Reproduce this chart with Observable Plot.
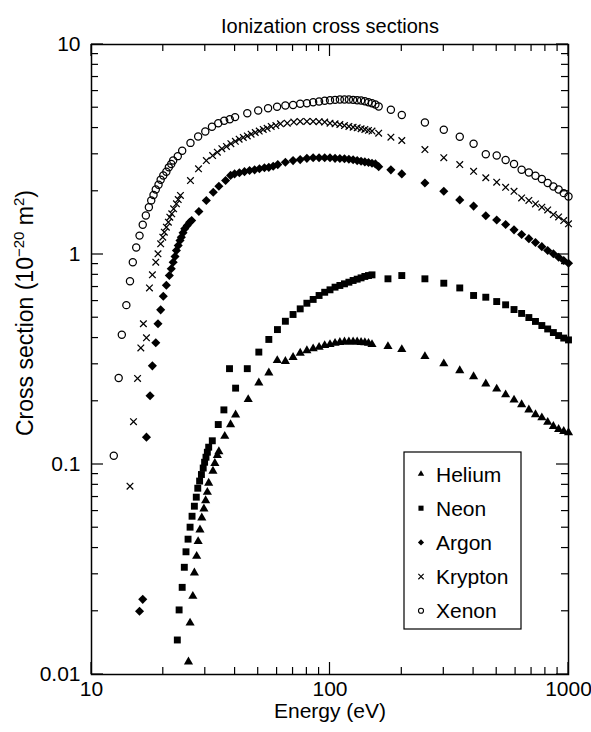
<!DOCTYPE html>
<html><head><meta charset="utf-8">
<script src="https://cdn.jsdelivr.net/npm/d3@7"></script>
<script src="https://cdn.jsdelivr.net/npm/@observablehq/plot@0.6"></script>
<style>body{margin:0;background:#fff;} svg{display:block;}</style>
</head><body><div id="chart"></div>
<script>
const title = "Ionization cross sections";
const xTitle = "Energy (eV)";
const gasNames = ["Helium", "Neon", "Argon", "Krypton", "Xenon"];
const xMajor = [10, 100, 1000];
const xTickLabels = ["10", "100", "1000"];
const xMinor = [20, 30, 40, 50, 60, 70, 80, 90, 200, 300, 400, 500, 600, 700, 800, 900];
const yMajor = [0.01, 0.1, 1, 10];
const yTickLabels = ["0.01", "0.1", "1", "10"];
const yMinor = [0.02, 0.03, 0.04, 0.05, 0.06, 0.07, 0.08, 0.09, 0.2, 0.3, 0.4, 0.5, 0.6, 0.7, 0.8, 0.9, 2, 3, 4, 5, 6, 7, 8, 9];

const heliumE = [25.5, 25.9, 26.6, 27.0, 27.6, 28.0, 28.5, 29.0, 29.6, 30.1, 30.6, 31.0, 32.3, 32.9, 33.7, 34.2, 36.2, 38.3, 40.2, 45.4, 50.3, 55.4, 60.1, 65, 70, 75, 80, 85, 90, 95, 100, 105, 110, 115, 120, 125, 130, 135, 140, 145, 150, 175, 200, 250, 300, 350, 400, 450, 500, 545, 591, 636, 682, 727, 773, 818, 864, 909, 955, 1000];
const heliumV = [0.0115, 0.0176, 0.0236, 0.0305, 0.0366, 0.0430, 0.0489, 0.0557, 0.0615, 0.0674, 0.0738, 0.0815, 0.0931, 0.1014, 0.1104, 0.1153, 0.1364, 0.155, 0.1725, 0.204, 0.245, 0.273, 0.313, 0.310, 0.324, 0.339, 0.349, 0.356, 0.362, 0.369, 0.373, 0.378, 0.382, 0.384, 0.384, 0.384, 0.384, 0.382, 0.381, 0.378, 0.373, 0.365, 0.353, 0.327, 0.302, 0.280, 0.262, 0.242, 0.229, 0.215, 0.203, 0.193, 0.182, 0.173, 0.167, 0.159, 0.152, 0.147, 0.144, 0.142];

const neonE = [22.9, 23.3, 24.0, 24.5, 24.9, 25.4, 25.9, 26.4, 27.0, 27.5, 27.9, 28.4, 28.9, 29.4, 29.8, 30.2, 30.6, 31.0, 32.1, 34.0, 35.9, 37.9, 40.2, 45.0, 50.3, 55.4, 60.2, 65, 70, 75, 80, 85, 90, 95, 100, 105, 110, 115, 120, 125, 130, 135, 140, 145, 150, 175, 200, 250, 300, 350, 400, 450, 500, 545, 591, 636, 682, 727, 773, 818, 864, 909, 955, 1000];
const neonV = [0.0146, 0.0203, 0.0260, 0.0324, 0.0384, 0.0441, 0.0503, 0.0567, 0.0633, 0.0699, 0.0771, 0.0834, 0.0896, 0.0962, 0.1025, 0.1083, 0.1144, 0.1209, 0.1297, 0.155, 0.182, 0.286, 0.231, 0.286, 0.343, 0.394, 0.439, 0.481, 0.518, 0.551, 0.586, 0.611, 0.638, 0.661, 0.679, 0.699, 0.712, 0.725, 0.738, 0.752, 0.763, 0.774, 0.786, 0.794, 0.800, 0.766, 0.794, 0.766, 0.730, 0.693, 0.638, 0.626, 0.597, 0.576, 0.547, 0.524, 0.501, 0.480, 0.459, 0.442, 0.425, 0.411, 0.400, 0.392];

const argonE = [15.9, 16.4, 17.0, 17.6, 18.0, 18.6, 19.0, 19.5, 20.0, 20.6, 21.2, 21.6, 22.0, 22.4, 22.7, 23.1, 23.5, 23.8, 24.2, 24.6, 25.2, 25.8, 26.3, 28.2, 30.3, 32.4, 34.2, 36.5, 38.3, 39.8, 41.7, 43.8, 46.0, 48.3, 50.6, 53.1, 55.4, 57.8, 60.4, 65, 70, 75, 80, 85, 90, 95, 100, 105, 110, 115, 120, 125, 130, 135, 140, 145, 150, 155, 160, 180, 200, 250, 300, 350, 400, 450, 500, 545, 591, 636, 682, 727, 773, 818, 864, 909, 955, 1000];
const argonV = [0.0200, 0.0228, 0.135, 0.2125, 0.295, 0.380, 0.468, 0.545, 0.633, 0.714, 0.794, 0.855, 0.919, 0.978, 1.045, 1.104, 1.166, 1.209, 1.269, 1.326, 1.374, 1.425, 1.452, 1.603, 1.807, 1.98, 2.115, 2.25, 2.38, 2.42, 2.45, 2.48, 2.51, 2.53, 2.56, 2.59, 2.60, 2.63, 2.68, 2.75, 2.80, 2.83, 2.87, 2.89, 2.89, 2.89, 2.89, 2.87, 2.865, 2.855, 2.84, 2.825, 2.80, 2.78, 2.76, 2.74, 2.72, 2.70, 2.62, 2.53, 2.42, 2.19, 2.00, 1.82, 1.70, 1.53, 1.46, 1.39, 1.31, 1.245, 1.19, 1.14, 1.09, 1.045, 1.008, 0.97, 0.936, 0.909];

const kryptonE = [14.5, 15.0, 15.6, 16.1, 16.5, 17.0, 17.5, 18.0, 18.6, 19.0, 19.5, 19.9, 20.2, 20.6, 21.0, 21.3, 21.7, 22.1, 22.7, 23.1, 23.6, 26.0, 28.1, 30.3, 32.2, 33.7, 35.2, 36.8, 38.4, 40.1, 41.6, 43.3, 45.0, 46.7, 48.6, 50.5, 52.5, 54.5, 56.7, 59.3, 62.0, 66.2, 70.5, 75, 80, 85, 90, 95, 100, 105, 110, 115, 120, 125, 130, 135, 140, 145, 150, 160, 180, 200, 250, 300, 350, 400, 450, 500, 545, 591, 636, 682, 727, 773, 818, 864, 909, 955, 1000];
const kryptonV = [0.0788, 0.160, 0.257, 0.359, 0.468, 0.401, 0.693, 0.80, 0.919, 1.008, 1.124, 1.209, 1.277, 1.349, 1.425, 1.505, 1.562, 1.650, 1.743, 1.827, 1.91, 2.25, 2.56, 2.80, 2.96, 3.07, 3.19, 3.27, 3.37, 3.46, 3.54, 3.61, 3.67, 3.74, 3.81, 3.87, 3.94, 3.99, 4.07, 4.11, 4.19, 4.22, 4.27, 4.30, 4.30, 4.30, 4.29, 4.27, 4.22, 4.19, 4.16, 4.11, 4.07, 4.04, 4.01, 3.97, 3.94, 3.90, 3.87, 3.78, 3.62, 3.49, 3.16, 2.89, 2.68, 2.49, 2.32, 2.21, 2.09, 2.00, 1.86, 1.81, 1.74, 1.68, 1.63, 1.55, 1.51, 1.45, 1.40];

const xenonE = [12.4, 13.0, 13.4, 14.0, 14.5, 14.9, 15.4, 15.9, 16.4, 16.9, 17.4, 17.8, 18.2, 18.6, 19.1, 19.5, 20.0, 20.6, 21.1, 21.6, 22.0, 23.0, 24.0, 26, 28, 30, 32, 34, 36, 38, 40, 45, 50, 55, 60, 65, 70, 75, 80, 85, 90, 95, 100, 105, 110, 115, 120, 125, 130, 135, 140, 145, 150, 155, 160, 180, 200, 250, 300, 350, 400, 450, 500, 545, 591, 636, 682, 727, 773, 818, 864, 909, 955, 1000];
const xenonV = [0.110, 0.258, 0.415, 0.574, 0.746, 0.919, 1.08, 1.23, 1.385, 1.533, 1.68, 1.81, 1.92, 2.04, 2.15, 2.27, 2.38, 2.48, 2.60, 2.70, 2.80, 2.94, 3.12, 3.40, 3.65, 3.85, 4.06, 4.22, 4.33, 4.41, 4.51, 4.71, 4.85, 4.97, 5.05, 5.12, 5.15, 5.22, 5.25, 5.31, 5.35, 5.40, 5.43, 5.45, 5.47, 5.47, 5.47, 5.45, 5.43, 5.41, 5.37, 5.31, 5.25, 5.18, 5.07, 4.89, 4.62, 4.25, 3.93, 3.64, 3.37, 3.00, 2.96, 2.82, 2.70, 2.53, 2.46, 2.37, 2.29, 2.19, 2.11, 2.04, 1.96, 1.89];

const seriesE = [heliumE, neonE, argonE, kryptonE, xenonE];
const seriesV = [heliumV, neonV, argonV, kryptonV, xenonV];
const styles = {
  Helium:  {symbol: "triangle", r: 3.4, fill: "black", stroke: "none", d3sym: d3.symbolTriangle, legSize: 18},
  Neon:    {symbol: "square",   r: 3.9, fill: "black", stroke: "none", d3sym: d3.symbolSquare, legSize: 26},
  Argon:   {symbol: "diamond2", r: 4.1, fill: "black", stroke: "none", d3sym: d3.symbolDiamond2, legSize: 24},
  Krypton: {symbol: "times",    r: 3.1, fill: "none", stroke: "black", d3sym: d3.symbolTimes, legSize: 20},
  Xenon:   {symbol: "circle",   r: 3.6, fill: "none", stroke: "black", d3sym: d3.symbolCircle, legSize: 20}
};

const rows = gasNames.flatMap((g, k) => seriesE[k].map((e, i) => ({gas: g, energy: e, cs: seriesV[k][i]})));

const font = "'Liberation Sans', Arial, Helvetica, sans-serif";
const fmtX = d => xTickLabels[xMajor.indexOf(d)];
const fmtY = d => yTickLabels[yMajor.indexOf(d)];

const dotMarks = gasNames.map(g => {
  const s = styles[g];
  return Plot.dot(rows.filter(d => d.gas === g), {
    x: "energy", y: "cs", symbol: s.symbol, r: s.r,
    fill: s.fill, stroke: s.stroke, strokeWidth: s.stroke === "none" ? 0 : 1.25
  });
});

const plot = Plot.plot({
  width: 591, height: 732,
  marginLeft: 91, marginRight: 23, marginTop: 44, marginBottom: 58,
  style: {fontFamily: font, fontSize: "20px", color: "black", background: "white"},
  x: {type: "log", domain: [10, 1000]},
  y: {type: "log", domain: [0.01, 10]},
  marks: [
    ...dotMarks,
    Plot.axisX(xMajor, {anchor: "bottom", tickSize: 0, tickPadding: 7, tickFormat: fmtX, fontSize: 21, label: null}),
    Plot.axisY(yMajor, {anchor: "left", tickSize: 0, tickPadding: 11, tickFormat: fmtY, fontSize: 21, label: null}),
    Plot.frame({strokeWidth: 1.5}),
    Plot.text([title], {text: d => d, frameAnchor: "top", dy: -26, fontSize: 20}),
    Plot.text([xTitle], {text: d => d, frameAnchor: "bottom", dy: 43, fontSize: 21})
  ]
});

const svg = d3.select(plot);
const xs = plot.scale("x"), ys = plot.scale("y");
const [x0, x1] = xs.range, [y0, y1] = ys.range; // y0 bottom, y1 top
const ticks = svg.append("g").attr("stroke", "black").attr("stroke-width", 1.2);
function vTick(v, len) {
  const px = xs.apply(v);
  ticks.append("line").attr("x1", px).attr("x2", px).attr("y1", y0).attr("y2", y0 - len);
  ticks.append("line").attr("x1", px).attr("x2", px).attr("y1", y1).attr("y2", y1 + len);
}
function hTick(v, len) {
  const py = ys.apply(v);
  ticks.append("line").attr("y1", py).attr("y2", py).attr("x1", x0).attr("x2", x0 + len);
  ticks.append("line").attr("y1", py).attr("y2", py).attr("x1", x1).attr("x2", x1 - len);
}
xMajor.forEach(v => vTick(v, 12));
xMinor.forEach(v => vTick(v, 7));
yMajor.forEach(v => hTick(v, 12));
yMinor.forEach(v => hTick(v, 7));

// y-axis title with superscripts
const yt = svg.append("text")
  .attr("transform", "translate(33,313) rotate(-90)")
  .attr("text-anchor", "middle")
  .attr("font-family", font).attr("font-size", 23).attr("fill", "black");
yt.append("tspan").text("Cross section (10");
yt.append("tspan").attr("dy", -9).attr("font-size", 15).text("\u221220");
yt.append("tspan").attr("dy", 9).text(" m");
yt.append("tspan").attr("dy", -9).attr("font-size", 15).text("2");
yt.append("tspan").attr("dy", 9).text(")");

// legend
const leg = svg.append("g").attr("font-family", font).attr("font-size", 21).attr("text-anchor", "start");
leg.append("rect").attr("x", 404).attr("y", 452).attr("width", 117).attr("height", 177)
  .attr("fill", "white").attr("stroke", "black").attr("stroke-width", 1.2);
gasNames.forEach((g, i) => {
  const s = styles[g];
  const cy = 474 + i * 34.2;
  leg.append("path").attr("transform", `translate(421,${cy})`)
    .attr("d", d3.symbol(s.d3sym, s.legSize)())
    .attr("fill", s.fill).attr("stroke", s.stroke === "none" ? null : "black").attr("stroke-width", 1.1);
  leg.append("text").attr("x", 436).attr("y", cy).attr("dy", "0.36em").attr("text-anchor", "start").text(g);
});

document.getElementById("chart").appendChild(plot);
</script>
</body></html>
